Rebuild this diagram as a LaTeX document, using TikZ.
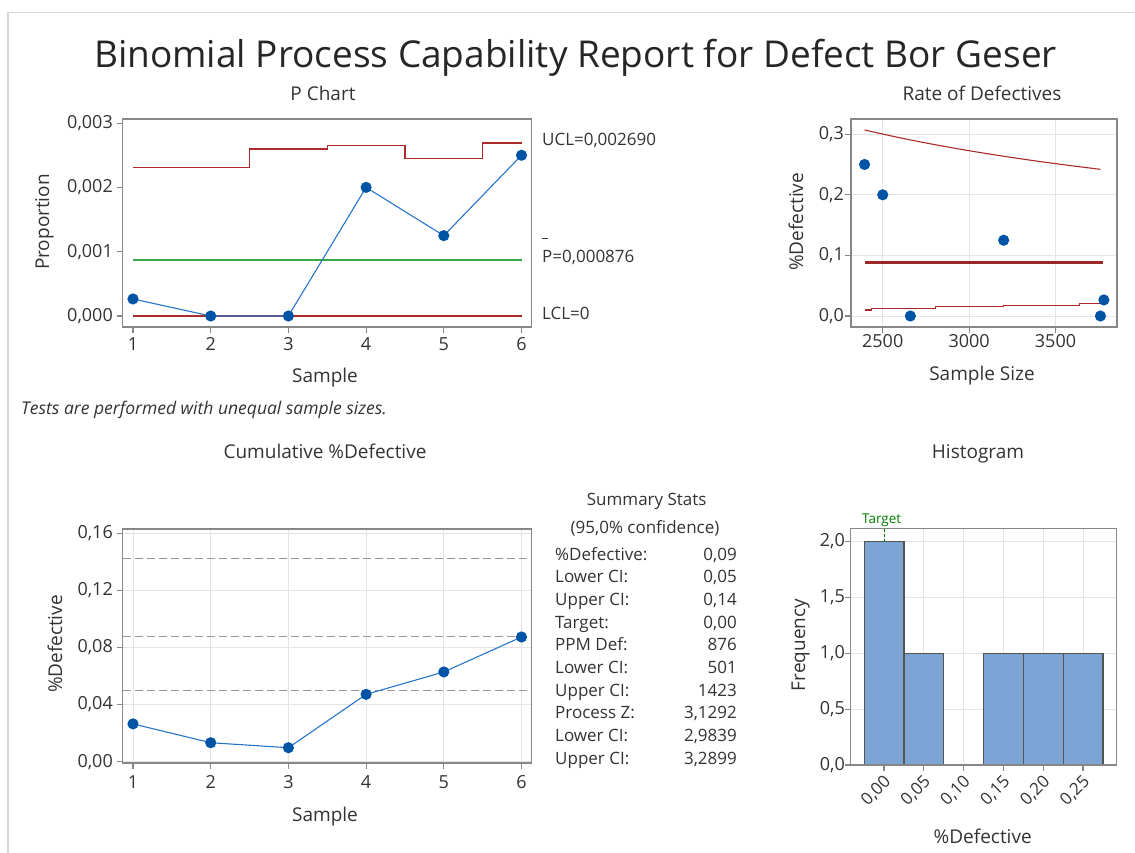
\documentclass[tikz,border=0pt]{standalone}
\usepackage{fontspec}
\setmainfont{Open Sans}

\definecolor{limitRed}{RGB}{172,42,42}
\definecolor{meanGreen}{RGB}{56,168,72}
\definecolor{pointBlue}{RGB}{0,84,166}
\definecolor{lineBlue}{RGB}{40,116,200}
\definecolor{axisGray}{RGB}{135,135,135}
\definecolor{gridGray}{RGB}{228,228,228}
\definecolor{textGray}{RGB}{51,51,51}
\definecolor{barBlue}{RGB}{124,165,214}
\definecolor{frameGray}{RGB}{215,215,215}
\definecolor{targetGreen}{RGB}{0,125,0}

\begin{document}
\begin{tikzpicture}[
		x=1pt, y=-1pt,
		text=textGray,
		% Styles
		chartBox/.style={draw=axisGray, line width=1.3pt},
		gridLine/.style={draw=gridGray, line width=1pt},
		tickMark/.style={draw=axisGray, line width=1.1pt},
		tickLabel/.style={inner sep=0pt, font=\fontsize{18}{21}\selectfont},
		axisLabel/.style={inner sep=0pt, font=\fontsize{19}{22}\selectfont},
		chartTitle/.style={inner sep=0pt, font=\fontsize{19}{22}\selectfont},
		limitLabel/.style={inner sep=0pt, anchor=base west, font=\fontsize{17}{20}\selectfont},
		statText/.style={inner sep=0pt, font=\fontsize{17}{20}\selectfont},
		ctrlLimit/.style={draw=limitRed, line width=1.2pt},
		meanLine/.style={draw=meanGreen, line width=1.8pt},
		dataLine/.style={draw=lineBlue, line width=1.1pt},
		dataPoint/.style={fill=pointBlue},
		ciLine/.style={draw=gray!80, line width=1.1pt, dash pattern=on 8pt off 4pt},
		histBar/.style={draw=darkgray!90, fill=barBlue, line width=1.2pt}
		]
		
		\useasboundingbox (0,0) rectangle (1135,853);
		\draw[frameGray, line width=1.3pt] (8,853) -- (8,12.5) -- (1135,12.5);
		
		\node[inner sep=0pt, anchor=base, font=\fontsize{37}{42}\selectfont, text=black!85] (reportTitle) at (575.5,68) {Binomial Process Capability Report for Defect Bor Geser};
		
		% =========================================================
		% 1. P CHART
		% =========================================================
		\node[chartTitle, anchor=base] (pTitle) at (323,101) {P Chart};
		\draw[chartBox] (122.5,119) rectangle (531.5,327);
		\foreach \v/\t in {0/{0,000},1/{0,001},2/{0,002},3/{0,003}} {
			\draw[tickMark] (122.5,{316-64.3*\v}) -- ++(-6,0);
			\node[tickLabel, anchor=east] (pY\v) at (113,{316-64.3*\v}) {\t};
		}
		\foreach \i in {1,...,6} {
			\draw[tickMark] ({133+77.7*(\i-1)},327) -- ++(0,6);
			\node[tickLabel, anchor=base] (pX\i) at ({133+77.7*(\i-1)},350) {\i};
		}
		\node[axisLabel, anchor=base] (pXLabel) at (325,382) {Sample};
		\node[axisLabel, anchor=base, rotate=90] (pYLabel) at (49,222) {Proportion};
		
		\begin{scope}[shift={(133,316)}, x=77.7pt, y=64.3pt]
			\draw[ctrlLimit] (0,2.31) -| (1.5,2.597) -| (2.5,2.65) -| (3.5,2.45) -| (4.5,2.69) -- (5,2.69);
			\draw[meanLine] (0,0.876) -- (5,0.876);
			\draw[ctrlLimit] (0,0) -- (5,0);
			\draw[dataLine] (0,0.265) -- (1,0) -- (2,0) -- (3,2) -- (4,1.25) -- (5,2.5);
			\foreach \i/\v in {0/0.265,1/0,2/0,3/2,4/1.25,5/2.5}
				\fill[dataPoint] (\i,\v) circle[radius=5.6pt];
		\end{scope}
		
		\node[limitLabel] (uclLabel) at (542,145.5) {UCL=0,002690};
		\node[limitLabel] (pbarLabel) at (542,262) {\makebox[0pt][l]{\smash{\rule[1.35em]{0.32em}{0.07em}}}P=0,000876};
		\node[limitLabel] (lclLabel) at (542,319) {LCL=0};
		
		% =========================================================
		% 2. RATE OF DEFECTIVES
		% =========================================================
		\node[chartTitle, anchor=base] (rTitle) at (982,101) {Rate of Defectives};
		\foreach \gx in {882.7,969.1,1055.5}
			\draw[gridLine] (\gx,119) -- (\gx,327);
		\foreach \v in {0,1,2,3}
			\draw[gridLine] (851,{316-60.6*\v}) -- (1117,{316-60.6*\v});
		\draw[chartBox] (851,119) rectangle (1117,327);
		\foreach \v/\t in {0/{0,0},1/{0,1},2/{0,2},3/{0,3}} {
			\draw[tickMark] (851,{316-60.6*\v}) -- ++(-6,0);
			\node[tickLabel, anchor=east] (rY\v) at (844,{316-60.6*\v}) {\t};
		}
		\foreach \n [count=\k from 0] in {2500,3000,3500} {
			\draw[tickMark] ({882.7+86.4*\k},327) -- ++(0,6);
			\node[tickLabel, anchor=base] (rX\k) at ({882.7+86.4*\k},347) {\n};
		}
		\node[axisLabel, anchor=base] (rXLabel) at (982,380) {Sample Size};
		\node[axisLabel, anchor=base, rotate=90] (rYLabel) at (803,222) {\%Defective};
		
		\begin{scope}[shift={(882.7,316)}, x=17.28pt, y=60.6pt]
			\draw[ctrlLimit, line width=1.1pt] plot[domain=2395:3760, samples=40] ({(\x-2500)/100},{-0.148+157.5/sqrt(\x)});
			\draw[ctrlLimit, line width=1.1pt] (-1.05,0.099) -| (-0.64,0.127) -| (3.03,0.153) -| (6.98,0.17) -| (11.38,0.21) -- (12.75,0.21);
			\draw[ctrlLimit, line width=3pt, draw=limitRed!90!black] (-1.02,0.876) -- (12.75,0.876);
			\foreach \i/\v in {-1.05/2.5,0/2,1.6/0,7/1.25,12.6/0,12.8/0.265}
				\fill[dataPoint] (\i,\v) circle[radius=5.6pt];
		\end{scope}
		
		\node[statText, anchor=base west, font=\fontsize{17.5}{20}\selectfont\itshape] (testNote) at (21,414) {Tests are performed with unequal sample sizes.};
		
		% =========================================================
		% 3. CUMULATIVE %DEFECTIVE
		% =========================================================
		\node[chartTitle, anchor=base] (cTitle) at (325,458) {Cumulative \%Defective};
		\foreach \k in {0,...,5}
			\draw[gridLine] ({133+77.7*\k},529) -- ({133+77.7*\k},763);
		\foreach \k in {0,...,4}
			\draw[gridLine] (122.5,{761.7-57.08*\k}) -- (531.5,{761.7-57.08*\k});
		\draw[chartBox] (122.5,529) rectangle (531.5,763);
		\foreach \k/\t in {0/{0,00},1/{0,04},2/{0,08},3/{0,12},4/{0,16}} {
			\draw[tickMark] (122.5,{761.7-57.08*\k}) -- ++(-6,0);
			\node[tickLabel, anchor=east] (cY\k) at (113,{761.7-57.08*\k}) {\t};
		}
		\foreach \i in {1,...,6} {
			\draw[tickMark] ({133+77.7*(\i-1)},763) -- ++(0,6);
			\node[tickLabel, anchor=base] (cX\i) at ({133+77.7*(\i-1)},788) {\i};
		}
		\node[axisLabel, anchor=base] (cXLabel) at (325,821) {Sample};
		\node[axisLabel, anchor=base, rotate=90] (cYLabel) at (62,644) {\%Defective};
		
		\begin{scope}[shift={(133,761.7)}, x=77.7pt, y=14.27pt]
			\foreach \v in {14.23,8.76,5.01}
				\draw[ciLine] (-0.135,\v) -- (5.129,\v);
			\draw[dataLine] (0,2.65) -- (1,1.33) -- (2,0.98) -- (3,4.72) -- (4,6.29) -- (5,8.74);
			\foreach \i/\v in {0/2.65,1/1.33,2/0.98,3/4.72,4/6.29,5/8.74}
				\fill[dataPoint] (\i,\v) circle[radius=5.6pt];
		\end{scope}
		
		% =========================================================
		% 4. SUMMARY STATS
		% =========================================================
		\node[statText, anchor=base] (sumTitle) at (646.7,505) {Summary Stats};
		\node[statText, anchor=base] (sumConf) at (645,533) {(95,0\% confidence)};
		\foreach \lab/\val [count=\r from 0] in {{\%Defective:}/{0,09},{Lower CI:}/{0,05},{Upper CI:}/{0,14},{Target:}/{0,00},{PPM Def:}/{876},{Lower CI:}/{501},{Upper CI:}/{1423},{Process Z:}/{3,1292},{Lower CI:}/{2,9839},{Upper CI:}/{3,2899}} {
			\node[statText, anchor=base west] (statL\r) at (555,{560+22.67*\r}) {\lab};
			\node[statText, anchor=base east] (statV\r) at (737,{560+22.67*\r}) {\val};
		}
		
		% =========================================================
		% 5. HISTOGRAM
		% =========================================================
		\node[chartTitle, anchor=base] (hTitle) at (978,458) {Histogram};
		\foreach \k in {0,...,5}
			\draw[gridLine] ({884+39.8*\k},528.3) -- ({884+39.8*\k},765);
		\foreach \k in {0,...,4}
			\draw[gridLine] (850.7,{765-55.85*\k}) -- (1116.7,{765-55.85*\k});
		\begin{scope}[shift={(884,765)}, x=39.8pt, y=111.7pt]
			\foreach \a/\h in {-0.5/2,0.5/1,2.5/1,3.5/1,4.5/1}
				\draw[histBar] (\a,0) rectangle ++(1,\h);
			\draw[targetGreen, line width=1pt, dash pattern=on 3pt off 2pt] (0,2) -- (0,2.119);
		\end{scope}
		\draw[chartBox] (850.7,528.3) rectangle (1116.7,765);
		\foreach \k/\t in {0/{0,0},1/{0,5},2/{1,0},3/{1,5},4/{2,0}} {
			\draw[tickMark] (850.7,{765-55.85*\k}) -- ++(-6,0);
			\node[tickLabel, anchor=east] (hY\k) at (845,{765-55.85*\k}) {\t};
		}
		\foreach \t [count=\k from 0] in {{0,00},{0,05},{0,10},{0,15},{0,20},{0,25}} {
			\draw[tickMark] ({884+39.8*\k},765) -- ++(0,6);
			\node[tickLabel, rotate=45, anchor=east, font=\fontsize{17}{20}\selectfont] (hX\k) at ({884+39.8*\k+4},779) {\t};
		}
		\node[inner sep=0pt, anchor=base, text=targetGreen, font=\fontsize{13.5}{16}\selectfont] (targetLabel) at (881.7,523.3) {Target};
		\node[axisLabel, anchor=base, rotate=90] (hYLabel) at (805,645) {Frequency};
		\node[axisLabel, anchor=base] (hXLabel) at (982.7,843) {\%Defective};
		
	\end{tikzpicture}
\end{document}
